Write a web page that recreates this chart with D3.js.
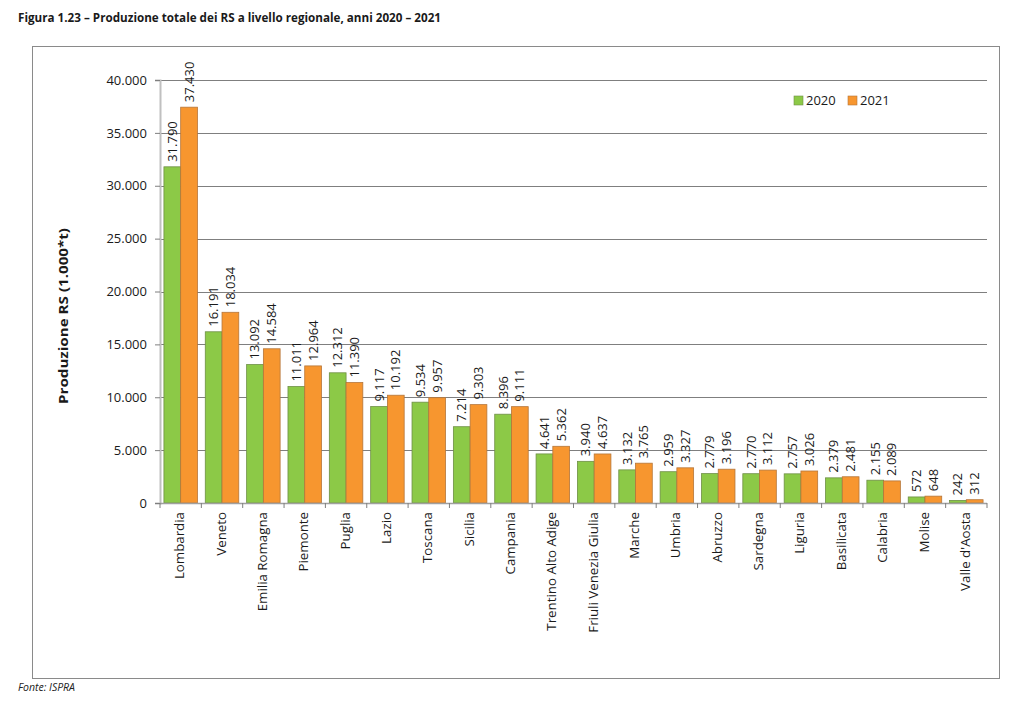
<!DOCTYPE html>
<html><head><meta charset="utf-8">
<script src="https://cdn.jsdelivr.net/npm/d3@7"></script>
<style>body{margin:0;background:#fff}svg{display:block}</style>
</head><body>
<script>
const regions = ["Lombardia","Veneto","Emilia Romagna","Piemonte","Puglia","Lazio","Toscana","Sicilia","Campania","Trentino Alto Adige","Friuli Venezia Giulia","Marche","Umbria","Abruzzo","Sardegna","Liguria","Basilicata","Calabria","Molise","Valle d'Aosta"];
const values2020 = [31790,16191,13092,11011,12312,9117,9534,7214,8396,4641,3940,3132,2959,2779,2770,2757,2379,2155,572,242];
const values2021 = [37430,18034,14584,12964,11390,10192,9957,9303,9111,5362,4637,3765,3327,3196,3112,3026,2481,2089,648,312];
const seriesNames = ["2020","2021"];
const yTicks = [0,5000,10000,15000,20000,25000,30000,35000,40000];

const W = 1023, H = 701;
const colors = {"2020":"#8CC947","2021":"#F7962F"};
const strokes = {"2020":"#6E8F45","2021":"#B5763A"};
const font = "'Open Sans', 'Noto Sans', sans-serif";
const loc = d3.formatLocale({decimal:",", thousands:".", grouping:[3], currency:["€",""]});
const fmt = loc.format(",d");

const svg = d3.select("body").append("svg").attr("width",W).attr("height",H);

// title
svg.append("text").attr("x",18).attr("y",22).attr("font-family",font).attr("font-weight","bold")
  .attr("font-size",12.5).attr("textLength",423).attr("lengthAdjust","spacingAndGlyphs").attr("fill","#1a1a1a")
  .text("Figura 1.23 – Produzione totale dei RS a livello regionale, anni 2020 – 2021");

// frame
svg.append("rect").attr("x",32.5).attr("y",46.5).attr("width",967).attr("height",632)
  .attr("fill","none").attr("stroke","#8a8a8a").attr("stroke-width",1);

// footer
svg.append("text").attr("x",18).attr("y",691).attr("font-family",font).attr("font-style","italic")
  .attr("font-size",10.5).attr("fill","#222").text("Fonte: ISPRA");

const x0 = 160, x1 = 987, yTop = 80, yBot = 503;
const x = d3.scaleBand().domain(regions).range([x0,x1]).paddingInner(0.19).paddingOuter(0.095);
const xs = d3.scaleBand().domain(seriesNames).range([0,x.bandwidth()]);
const y = d3.scaleLinear().domain([0,40000]).range([yBot,yTop]);

// gridlines
svg.append("g").selectAll("line").data(yTicks.filter(d=>d>0)).join("line")
  .attr("x1",x0).attr("x2",x1).attr("y1",d=>Math.round(y(d))+0.5).attr("y2",d=>Math.round(y(d))+0.5)
  .attr("stroke","#7f7f7f").attr("stroke-width",1);

// y axis
const yAxis = svg.append("g").attr("transform",`translate(${x0},0)`)
  .call(d3.axisLeft(y).tickValues(yTicks).tickFormat(fmt).tickSize(5).tickPadding(8));
yAxis.select(".domain").attr("stroke","#c0c0c0").attr("stroke-width",2);
yAxis.selectAll(".tick line").attr("stroke","#7f7f7f");
yAxis.selectAll(".tick text").attr("font-family",font).attr("font-size",13).attr("fill","#1a1a1a");

// y label
svg.append("text").attr("transform",`translate(68,316) rotate(-90)`)
  .attr("text-anchor","middle").attr("font-family",font).attr("font-weight","bold")
  .attr("font-size",13).attr("textLength",176).attr("lengthAdjust","spacingAndGlyphs")
  .attr("fill","#1a1a1a").text("Produzione RS (1.000*t)");

// bars
const data = regions.map((r,i)=>({region:r, vals:[{k:"2020",v:values2020[i]},{k:"2021",v:values2021[i]}]}));
const groups = svg.append("g").selectAll("g").data(data).join("g")
  .attr("transform",d=>`translate(${x(d.region)},0)`);
groups.selectAll("rect").data(d=>d.vals).join("rect")
  .attr("x",d=>xs(d.k)).attr("width",xs.bandwidth())
  .attr("y",d=>y(d.v)).attr("height",d=>yBot-y(d.v))
  .attr("fill",d=>colors[d.k]).attr("stroke",d=>strokes[d.k]).attr("stroke-width",0.8);
groups.selectAll("text").data(d=>d.vals).join("text")
  .attr("transform",d=>`translate(${xs(d.k)+xs.bandwidth()/2+1},${y(d.v)-5}) rotate(-90)`)
  .attr("dominant-baseline","middle").attr("font-family",font).attr("font-size",13)
  .attr("fill","#1a1a1a").text(d=>fmt(d.v));

// x axis
const xAxisG = svg.append("g").attr("transform",`translate(0,${yBot})`);
xAxisG.append("line").attr("x1",x0).attr("x2",x1).attr("y1",0.5).attr("y2",0.5).attr("stroke","#a0a0a0").attr("stroke-width",1.5);
const bounds = d3.range(regions.length+1).map(i=>x0+i*(x1-x0)/regions.length);
xAxisG.selectAll("line.tk").data(bounds).join("line").attr("class","tk")
  .attr("x1",d=>d).attr("x2",d=>d).attr("y1",0).attr("y2",5).attr("stroke","#7f7f7f");
xAxisG.selectAll("text").data(regions).join("text")
  .attr("transform",d=>`translate(${x(d)+x.bandwidth()/2},9) rotate(-90)`)
  .attr("text-anchor","end").attr("dominant-baseline","middle")
  .attr("font-family",font).attr("font-size",13.3).attr("fill","#1a1a1a").text(d=>d);

// legend
const lg = svg.append("g").attr("transform","translate(794,96)");
seriesNames.forEach((s,i)=>{
  const g = lg.append("g").attr("transform",`translate(${i*54},0)`);
  g.append("rect").attr("width",9).attr("height",9).attr("fill",colors[s]).attr("stroke",strokes[s]).attr("stroke-width",0.6);
  g.append("text").attr("x",12).attr("y",9).attr("font-family",font).attr("font-size",13).attr("fill","#1a1a1a").text(s);
});
</script>
</body></html>
